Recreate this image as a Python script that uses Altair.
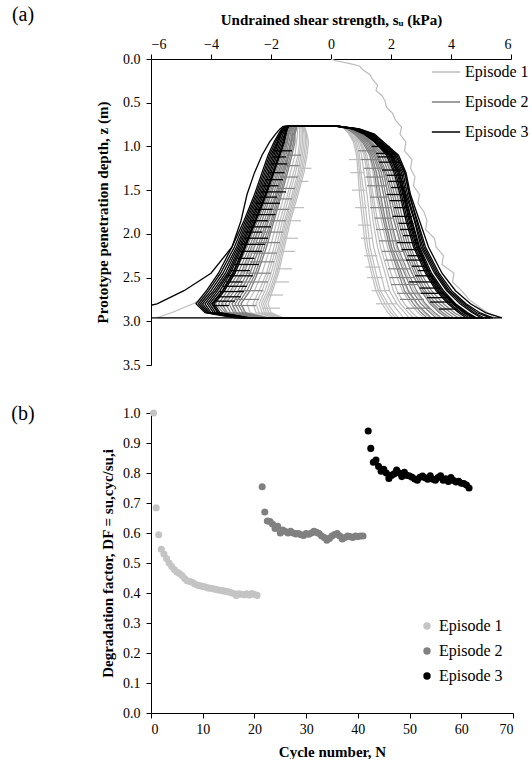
import altair as alt
import pandas as pd

SERIF = "Liberation Serif"
EPISODES = ["Episode 1", "Episode 2", "Episode 3"]
LINE_COLORS = ["#bdbdbd", "#808080", "#000000"]
LINE_WIDTHS = [1.2, 1.2, 1.3]
DOT_COLORS = ["#c4c4c4", "#808080", "#000000"]

SU_TICKS = [-6, -4, -2, 0, 2, 4, 6]
Z_TICKS = [0.0, 0.5, 1.0, 1.5, 2.0, 2.5, 3.0, 3.5]
N_TICKS = [0, 10, 20, 30, 40, 50, 60, 70]
DF_TICKS = [0.0, 0.1, 0.2, 0.3, 0.4, 0.5, 0.6, 0.7, 0.8, 0.9, 1.0]

# ---------------- panel (a): cyclic T-bar profiles ----------------
Z_NODES = [0.77, 0.80, 0.86, 0.95, 1.10, 1.30, 1.55, 1.85, 2.15, 2.45, 2.65, 2.80, 2.90, 2.96]

# initial penetration (episode 1)
INIT_Z = [0.00, 0.02, 0.05, 0.08, 0.12, 0.18, 0.24, 0.30, 0.36, 0.42, 0.48, 0.55, 0.62, 0.70,
          0.78, 0.86, 0.95, 1.05, 1.15, 1.25, 1.35, 1.45, 1.55, 1.65, 1.75, 1.85, 1.95, 2.05,
          2.15, 2.25, 2.35, 2.45, 2.55, 2.65, 2.75, 2.85, 2.92, 2.97]
INIT_SU = [0.00, 0.15, 0.60, 0.95, 1.05, 1.30, 1.40, 1.55, 1.50, 1.70, 1.80, 1.85, 2.05, 2.15,
           2.35, 2.30, 2.50, 2.45, 2.70, 2.65, 2.80, 2.75, 2.95, 2.90, 3.10, 3.20, 3.15, 3.45,
           3.50, 3.75, 3.70, 4.10, 4.05, 4.35, 4.60, 5.00, 5.30, 5.50]

# penetration side (positive su) at Z_NODES, one row per cycle
E1_R = [
    [0.30, 0.70, 1.10, 1.40, 1.80, 2.05, 2.25, 2.50, 2.80, 3.20, 3.55, 3.95, 4.30, 4.60],
    [0.30, 0.65, 1.00, 1.25, 1.55, 1.75, 1.90, 2.10, 2.35, 2.70, 3.00, 3.35, 3.65, 3.90],
    [0.30, 0.62, 0.95, 1.18, 1.45, 1.62, 1.75, 1.95, 2.18, 2.50, 2.78, 3.10, 3.38, 3.60],
    [0.30, 0.60, 0.90, 1.10, 1.35, 1.50, 1.60, 1.80, 2.00, 2.30, 2.55, 2.85, 3.10, 3.30],
    [0.30, 0.58, 0.85, 1.05, 1.28, 1.40, 1.50, 1.68, 1.88, 2.15, 2.38, 2.65, 2.90, 3.10],
    [0.30, 0.55, 0.80, 1.00, 1.20, 1.30, 1.40, 1.55, 1.75, 2.00, 2.20, 2.45, 2.70, 2.90],
    [0.30, 0.52, 0.78, 0.98, 1.15, 1.25, 1.35, 1.48, 1.65, 1.90, 2.08, 2.32, 2.58, 2.75],
    [0.30, 0.50, 0.75, 0.95, 1.10, 1.20, 1.30, 1.40, 1.55, 1.80, 1.95, 2.20, 2.45, 2.60],
    [0.30, 0.50, 0.70, 0.90, 1.02, 1.10, 1.20, 1.30, 1.42, 1.65, 1.80, 2.05, 2.28, 2.42],
    [0.30, 0.50, 0.65, 0.85, 0.95, 1.00, 1.10, 1.20, 1.30, 1.50, 1.65, 1.90, 2.10, 2.25],
    [0.30, 0.48, 0.62, 0.80, 0.90, 0.95, 1.02, 1.12, 1.22, 1.42, 1.58, 1.80, 2.00, 2.15],
    [0.30, 0.45, 0.60, 0.75, 0.85, 0.90, 0.95, 1.05, 1.15, 1.35, 1.50, 1.70, 1.90, 2.05],
]
E1_L = [
    [-1.45, -1.50, -1.60, -1.70, -1.85, -2.05, -2.30, -2.65, -3.00, -3.40, -3.80, -4.60, -5.30, -5.80],
    [-1.35, -1.35, -1.40, -1.45, -1.55, -1.75, -2.00, -2.30, -2.60, -2.95, -3.30, -3.60, -3.50, -2.60],
    [-1.28, -1.28, -1.30, -1.35, -1.42, -1.60, -1.82, -2.10, -2.38, -2.70, -3.00, -3.30, -3.20, -2.40],
    [-1.20, -1.20, -1.20, -1.25, -1.30, -1.45, -1.65, -1.90, -2.15, -2.45, -2.70, -3.00, -2.90, -2.20],
    [-1.15, -1.12, -1.12, -1.15, -1.20, -1.35, -1.55, -1.80, -2.02, -2.30, -2.55, -2.80, -2.70, -2.05],
    [-1.10, -1.05, -1.05, -1.05, -1.10, -1.25, -1.45, -1.70, -1.90, -2.15, -2.40, -2.60, -2.50, -1.90],
    [-1.05, -1.00, -1.00, -1.00, -1.05, -1.18, -1.38, -1.62, -1.82, -2.08, -2.30, -2.50, -2.40, -1.85],
    [-1.00, -0.95, -0.95, -0.95, -1.00, -1.10, -1.30, -1.55, -1.75, -2.00, -2.20, -2.40, -2.30, -1.80],
    [-0.98, -0.92, -0.90, -0.90, -0.95, -1.05, -1.25, -1.50, -1.70, -1.92, -2.12, -2.32, -2.22, -1.75],
    [-0.95, -0.90, -0.85, -0.85, -0.90, -1.00, -1.20, -1.45, -1.65, -1.85, -2.05, -2.25, -2.15, -1.70],
    [-0.92, -0.88, -0.82, -0.80, -0.85, -0.95, -1.15, -1.40, -1.60, -1.80, -2.00, -2.18, -2.08, -1.65],
    [-0.90, -0.85, -0.80, -0.75, -0.80, -0.90, -1.10, -1.35, -1.55, -1.75, -1.95, -2.10, -2.00, -1.60],
]
E2_R = [
    [0.30, 0.70, 1.05, 1.35, 1.75, 2.00, 2.20, 2.40, 2.65, 3.00, 3.35, 3.75, 4.10, 4.40],
    [0.30, 0.68, 1.02, 1.32, 1.68, 1.92, 2.12, 2.32, 2.58, 2.92, 3.25, 3.62, 3.98, 4.25],
    [0.30, 0.65, 1.00, 1.30, 1.60, 1.85, 2.05, 2.25, 2.50, 2.85, 3.15, 3.50, 3.85, 4.10],
    [0.30, 0.62, 0.98, 1.28, 1.55, 1.80, 1.98, 2.18, 2.42, 2.78, 3.08, 3.40, 3.72, 3.98],
    [0.30, 0.60, 0.95, 1.25, 1.50, 1.75, 1.90, 2.10, 2.35, 2.70, 3.00, 3.30, 3.60, 3.85],
    [0.30, 0.60, 0.92, 1.20, 1.45, 1.68, 1.82, 2.00, 2.22, 2.58, 2.85, 3.15, 3.45, 3.68],
    [0.30, 0.60, 0.90, 1.15, 1.40, 1.60, 1.75, 1.90, 2.10, 2.45, 2.70, 3.00, 3.30, 3.50],
    [0.30, 0.58, 0.85, 1.10, 1.35, 1.52, 1.65, 1.82, 2.02, 2.35, 2.58, 2.88, 3.15, 3.35],
    [0.30, 0.55, 0.80, 1.05, 1.30, 1.45, 1.55, 1.75, 1.95, 2.25, 2.45, 2.75, 3.00, 3.20],
]
E2_L = [
    [-1.35, -1.40, -1.45, -1.50, -1.65, -1.85, -2.10, -2.45, -2.80, -3.20, -3.55, -3.85, -3.60, -2.60],
    [-1.32, -1.38, -1.42, -1.48, -1.60, -1.80, -2.05, -2.38, -2.72, -3.10, -3.45, -3.75, -3.52, -2.55],
    [-1.30, -1.35, -1.40, -1.45, -1.55, -1.75, -2.00, -2.30, -2.65, -3.00, -3.35, -3.65, -3.45, -2.50],
    [-1.28, -1.32, -1.35, -1.40, -1.50, -1.70, -1.92, -2.22, -2.55, -2.90, -3.22, -3.52, -3.35, -2.45],
    [-1.25, -1.30, -1.30, -1.35, -1.45, -1.65, -1.85, -2.15, -2.45, -2.80, -3.10, -3.40, -3.25, -2.40],
    [-1.22, -1.25, -1.28, -1.32, -1.42, -1.60, -1.80, -2.08, -2.38, -2.70, -3.00, -3.30, -3.15, -2.30],
    [-1.20, -1.20, -1.25, -1.30, -1.40, -1.55, -1.75, -2.00, -2.30, -2.60, -2.90, -3.20, -3.05, -2.20],
    [-1.18, -1.18, -1.22, -1.25, -1.35, -1.50, -1.70, -1.95, -2.22, -2.52, -2.80, -3.10, -2.95, -2.15],
    [-1.15, -1.15, -1.20, -1.20, -1.30, -1.45, -1.65, -1.90, -2.15, -2.45, -2.70, -3.00, -2.85, -2.10],
]
E3_R = [
    [0.30, 0.95, 1.45, 1.75, 2.25, 2.50, 2.65, 2.95, 3.25, 3.70, 4.15, 4.65, 5.15, 5.70],
    [0.30, 0.90, 1.35, 1.65, 2.15, 2.45, 2.62, 2.85, 3.10, 3.55, 3.95, 4.45, 4.85, 5.30],
    [0.28, 0.92, 1.40, 1.70, 2.20, 2.47, 2.60, 2.88, 3.15, 3.60, 4.02, 4.50, 4.95, 5.40],
    [0.25, 0.86, 1.32, 1.62, 2.10, 2.40, 2.55, 2.80, 3.05, 3.50, 3.90, 4.38, 4.76, 5.10],
    [0.25, 0.85, 1.30, 1.60, 2.05, 2.35, 2.50, 2.78, 3.00, 3.45, 3.85, 4.30, 4.70, 5.00],
    [0.25, 0.80, 1.25, 1.55, 2.00, 2.30, 2.45, 2.70, 2.95, 3.35, 3.75, 4.15, 4.55, 4.85],
    [0.22, 0.82, 1.27, 1.57, 2.03, 2.27, 2.47, 2.68, 2.92, 3.30, 3.70, 4.12, 4.50, 4.80],
    [0.22, 0.77, 1.22, 1.52, 1.97, 2.24, 2.42, 2.64, 2.88, 3.28, 3.65, 4.08, 4.45, 4.75],
    [0.20, 0.75, 1.20, 1.50, 1.95, 2.20, 2.40, 2.60, 2.85, 3.25, 3.60, 4.05, 4.40, 4.70],
    [0.20, 0.72, 1.15, 1.47, 1.90, 2.15, 2.35, 2.55, 2.80, 3.20, 3.55, 3.97, 4.32, 4.60],
    [0.20, 0.70, 1.10, 1.45, 1.85, 2.10, 2.30, 2.50, 2.75, 3.15, 3.50, 3.90, 4.25, 4.50],
]
E3_L = [
    [-1.60, -1.70, -1.85, -2.05, -2.30, -2.55, -2.80, -3.00, -3.30, -4.00, -4.90, -5.80, -7.00, -6.40],
    [-1.55, -1.65, -1.75, -1.90, -2.10, -2.30, -2.55, -2.90, -3.30, -3.75, -4.15, -4.50, -4.20, -3.20],
    [-1.52, -1.62, -1.72, -1.85, -2.05, -2.25, -2.50, -2.85, -3.22, -3.68, -4.08, -4.42, -4.15, -3.10],
    [-1.50, -1.60, -1.70, -1.80, -2.00, -2.20, -2.45, -2.80, -3.15, -3.60, -4.00, -4.35, -4.10, -3.00],
    [-1.50, -1.58, -1.68, -1.78, -1.95, -2.15, -2.40, -2.75, -3.10, -3.52, -3.92, -4.28, -4.05, -2.95],
    [-1.50, -1.55, -1.65, -1.75, -1.90, -2.10, -2.35, -2.70, -3.05, -3.45, -3.85, -4.20, -4.00, -2.90],
    [-1.47, -1.52, -1.60, -1.70, -1.85, -2.05, -2.30, -2.65, -3.00, -3.40, -3.78, -4.12, -3.92, -2.85],
    [-1.45, -1.50, -1.55, -1.65, -1.80, -2.00, -2.25, -2.60, -2.95, -3.35, -3.70, -4.05, -3.85, -2.80],
    [-1.45, -1.48, -1.53, -1.60, -1.75, -1.95, -2.20, -2.55, -2.90, -3.28, -3.62, -3.98, -3.78, -2.75],
    [-1.42, -1.46, -1.50, -1.57, -1.72, -1.92, -2.18, -2.52, -2.88, -3.25, -3.60, -3.95, -3.75, -2.72],
    [-1.40, -1.45, -1.50, -1.55, -1.70, -1.90, -2.15, -2.50, -2.85, -3.20, -3.55, -3.90, -3.70, -2.70],
]

# short load spikes: depth, start su, end su
E1_SPK_Z = [1.15, 1.30, 1.50, 1.70, 1.90, 2.05, 2.25, 2.38, 2.50, 2.65, 2.80,
            1.25, 1.40, 1.70, 1.85, 2.05, 2.20, 2.40, 2.55, 2.70, 2.85]
E1_SPK_A = [1.00, 1.10, 1.15, 1.20, 1.30, 1.40, 1.55, 1.65, 1.75, 1.95, 2.20,
            -1.00, -1.10, -1.30, -1.45, -1.55, -1.65, -1.80, -1.90, -2.10, -2.30]
E1_SPK_B = [0.60, 0.65, 0.70, 0.80, 0.90, 1.00, 1.10, 1.15, 1.20, 1.35, 1.50,
            -0.65, -0.75, -0.90, -1.00, -1.10, -1.20, -1.30, -1.40, -1.60, -1.70]
E2_SPK_Z = [1.05, 1.15, 1.25, 1.35, 1.45, 1.58, 1.70, 1.82, 1.95, 2.08, 2.20, 2.30, 2.40, 2.50, 2.58, 2.68, 2.75, 2.85,
            1.10, 1.22, 1.35, 1.48, 1.60, 1.72, 1.85, 1.98, 2.10, 2.22, 2.32, 2.45, 2.55, 2.65, 2.75, 2.82]
E2_SPK_A = [1.50, 1.60, 1.70, 1.75, 1.85, 1.90, 2.00, 2.10, 2.20, 2.30, 2.45, 2.55, 2.65, 2.80, 2.90, 3.00, 3.10, 3.30,
            -1.45, -1.55, -1.70, -1.80, -1.90, -2.05, -2.20, -2.35, -2.50, -2.60, -2.70, -2.85, -3.00, -3.10, -3.20, -3.30]
E2_SPK_B = [0.90, 1.00, 1.10, 1.15, 1.20, 1.30, 1.30, 1.45, 1.50, 1.60, 1.70, 1.80, 1.90, 1.95, 2.00, 2.20, 2.30, 2.50,
            -1.00, -1.05, -1.10, -1.20, -1.30, -1.40, -1.50, -1.60, -1.70, -1.80, -1.90, -2.00, -2.10, -2.25, -2.40, -2.50]
E3_SPK_Z = [1.00, 1.08, 1.12, 1.18, 1.27, 1.33, 1.40, 1.47, 1.55, 1.62, 1.70, 1.80, 1.88, 1.95, 2.02, 2.10,
            2.18, 2.25, 2.30, 2.37, 2.42, 2.48, 2.55, 2.62, 2.68, 2.73, 2.78, 2.86,
            1.05, 1.12, 1.20, 1.30, 1.38, 1.45, 1.52, 1.58, 1.65, 1.72, 1.78, 1.85, 1.92, 1.98, 2.05,
            2.12, 2.20, 2.28, 2.35, 2.42, 2.48, 2.55, 2.60, 2.66, 2.72, 2.77, 2.82]
E3_SPK_A = [1.95, 2.15, 2.20, 2.30, 2.35, 2.40, 2.45, 2.50, 2.50, 2.55, 2.60, 2.70, 2.75, 2.80, 2.85, 2.90,
            3.00, 3.05, 3.15, 3.20, 3.30, 3.40, 3.55, 3.65, 3.75, 3.85, 4.00, 4.20,
            -1.90, -1.95, -2.00, -2.10, -2.20, -2.30, -2.35, -2.40, -2.50, -2.55, -2.60, -2.70, -2.75, -2.85, -2.90,
            -3.00, -3.05, -3.15, -3.25, -3.35, -3.45, -3.50, -3.60, -3.70, -3.80, -3.85, -3.90]
E3_SPK_B = [1.35, 1.50, 1.55, 1.60, 1.70, 1.85, 1.90, 2.00, 1.85, 1.95, 2.10, 2.05, 2.25, 2.30, 2.40, 2.20,
            2.35, 2.55, 2.50, 2.70, 2.90, 2.80, 2.60, 2.95, 3.00, 3.20, 3.30, 3.60,
            -1.30, -1.50, -1.45, -1.55, -1.60, -1.75, -1.50, -1.80, -1.70, -1.95, -1.85, -2.10, -2.00, -2.30, -2.10,
            -2.20, -2.30, -2.55, -2.40, -2.70, -2.60, -2.95, -2.80, -2.90, -3.00, -3.20, -3.40]

# ---------------- panel (b): degradation factor ----------------
E1_N = [0.5, 1.0, 1.5, 2.0, 2.5, 3.0, 3.5, 4.0, 4.5, 5.0, 5.5, 6.0, 6.5, 7.0, 7.5, 8.0, 8.5, 9.0,
        9.5, 10.0, 10.5, 11.0, 11.5, 12.0, 12.5, 13.0, 13.5, 14.0, 14.5, 15.0, 15.5, 16.0, 16.5,
        17.0, 17.5, 18.0, 18.5, 19.0, 19.5, 20.0, 20.5]
E1_DF = [1.000, 0.684, 0.594, 0.546, 0.530, 0.515, 0.500, 0.488, 0.478, 0.470, 0.465, 0.458, 0.448,
         0.441, 0.438, 0.436, 0.430, 0.426, 0.424, 0.422, 0.420, 0.417, 0.416, 0.414, 0.412, 0.410,
         0.409, 0.407, 0.405, 0.404, 0.401, 0.398, 0.392, 0.397, 0.396, 0.394, 0.397, 0.393, 0.398,
         0.395, 0.392]
E2_N = [21.5, 22.0, 22.5, 23.0, 23.5, 24.0, 24.5, 25.0, 25.5, 26.0, 26.5, 27.0, 27.5, 28.0, 28.5,
        29.0, 29.5, 30.0, 30.5, 31.0, 31.5, 32.0, 32.5, 33.0, 33.5, 34.0, 34.5, 35.0, 35.5, 36.0,
        36.5, 37.0, 37.5, 38.0, 38.5, 39.0, 39.5, 40.0, 40.5, 41.0]
E2_DF = [0.754, 0.670, 0.640, 0.638, 0.630, 0.615, 0.622, 0.600, 0.610, 0.605, 0.600, 0.606, 0.600,
         0.597, 0.598, 0.594, 0.592, 0.598, 0.596, 0.600, 0.606, 0.602, 0.598, 0.590, 0.585, 0.576,
         0.582, 0.590, 0.595, 0.598, 0.590, 0.580, 0.585, 0.590, 0.588, 0.585, 0.590, 0.588, 0.590,
         0.590]
E3_N = [42.0, 42.5, 43.0, 43.5, 44.0, 44.5, 45.0, 45.5, 46.0, 46.5, 47.0, 47.5, 48.0, 48.5, 49.0,
        49.5, 50.0, 50.5, 51.0, 51.5, 52.0, 52.5, 53.0, 53.5, 54.0, 54.5, 55.0, 55.5, 56.0, 56.5,
        57.0, 57.5, 58.0, 58.5, 59.0, 59.5, 60.0, 60.5, 61.0, 61.5]
E3_DF = [0.940, 0.882, 0.836, 0.843, 0.822, 0.806, 0.812, 0.800, 0.782, 0.792, 0.797, 0.810, 0.800,
         0.788, 0.802, 0.792, 0.790, 0.786, 0.780, 0.776, 0.786, 0.790, 0.784, 0.779, 0.791, 0.779,
         0.776, 0.785, 0.791, 0.776, 0.781, 0.772, 0.785, 0.775, 0.770, 0.772, 0.766, 0.765, 0.760,
         0.750]

# ---------------- build tables ----------------
line_rows = []
for k, (zz, ss) in enumerate(zip(INIT_Z, INIT_SU)):
    line_rows.append({"ep": "Episode 1", "loop": "init", "i": k, "z": zz, "su": ss})

for ep, rights, lefts in [("Episode 1", E1_R, E1_L), ("Episode 2", E2_R, E2_L), ("Episode 3", E3_R, E3_L)]:
    for c, (r, l) in enumerate(zip(rights, lefts)):
        pts = list(zip(Z_NODES, r)) + list(zip(Z_NODES[::-1], l[::-1])) + [(Z_NODES[0], r[0])]
        for k, (zz, ss) in enumerate(pts):
            line_rows.append({"ep": ep, "loop": f"{ep}-{c}", "i": k, "z": zz, "su": ss})
lines_df = pd.DataFrame(line_rows)

spk_rows = []
for ep, zs, a_s, b_s in [("Episode 1", E1_SPK_Z, E1_SPK_A, E1_SPK_B),
                         ("Episode 2", E2_SPK_Z, E2_SPK_A, E2_SPK_B),
                         ("Episode 3", E3_SPK_Z, E3_SPK_A, E3_SPK_B)]:
    for zz, a, b in zip(zs, a_s, b_s):
        spk_rows.append({"ep": ep, "z": zz, "su": a, "su2": b})
spk_df = pd.DataFrame(spk_rows)

dots_df = pd.DataFrame(
    [{"ep": "Episode 1", "N": n, "DF": d} for n, d in zip(E1_N, E1_DF)]
    + [{"ep": "Episode 2", "N": n, "DF": d} for n, d in zip(E2_N, E2_DF)]
    + [{"ep": "Episode 3", "N": n, "DF": d} for n, d in zip(E3_N, E3_DF)]
)

# ---------------- panel (a) ----------------
xa = alt.X("su:Q", scale=alt.Scale(domain=[-6, 6], nice=False, zero=False),
           axis=alt.Axis(orient="top", values=SU_TICKS, format="d",
                         title="Undrained shear strength, sᵤ (kPa)",
                         labelPadding=3, titlePadding=10))
ya = alt.Y("z:Q", scale=alt.Scale(domain=[0, 3.5], reverse=True, nice=False),
           axis=alt.Axis(values=Z_TICKS, format=".1f",
                         title="Prototype penetration depth, z (m)",
                         labelPadding=6, titlePadding=12))
color_lines = alt.Color("ep:N", scale=alt.Scale(domain=EPISODES, range=LINE_COLORS),
                        legend=alt.Legend(title=None, orient="none", legendX=280, legendY=-2,
                                          symbolType="stroke", symbolSize=800,
                                          symbolStrokeWidth=1.5, labelFont=SERIF,
                                          labelFontSize=16, labelColor="black",
                                          rowPadding=7, padding=0, labelOffset=4))

layers = []
for ep, w in zip(EPISODES, LINE_WIDTHS):
    layers.append(
        alt.Chart(lines_df).transform_filter(alt.datum.ep == ep)
        .mark_line(clip=True, strokeWidth=w)
        .encode(x=xa, y=ya, color=color_lines, detail="loop:N", order="i:Q")
    )
    layers.append(
        alt.Chart(spk_df).transform_filter(alt.datum.ep == ep)
        .mark_rule(clip=True, strokeWidth=w)
        .encode(x=xa, x2="su2:Q", y=ya, color=color_lines)
    )

label_a = alt.Chart(pd.DataFrame({"t": ["(a)"]})).mark_text(
    font=SERIF, fontSize=20, align="center", baseline="middle", color="black"
).encode(x=alt.value(-128), y=alt.value(-44), text="t:N")

top = alt.layer(*layers, label_a).properties(width=360, height=306)

# ---------------- panel (b) ----------------
xb = alt.X("N:Q", scale=alt.Scale(domain=[0, 70], nice=False),
           axis=alt.Axis(values=N_TICKS, format="d", title="Cycle number, N",
                         labelPadding=4, titlePadding=8))
yb = alt.Y("DF:Q", scale=alt.Scale(domain=[0, 1], nice=False),
           axis=alt.Axis(values=DF_TICKS, format=".1f",
                         title="Degradation factor, DF = su,cyc/su,i",
                         labelPadding=6, titlePadding=7))
color_dots = alt.Color("ep:N", scale=alt.Scale(domain=EPISODES, range=DOT_COLORS),
                       legend=alt.Legend(title=None, orient="none", legendX=268, legendY=205,
                                         symbolType="circle", symbolSize=55,
                                         labelFont=SERIF, labelFontSize=16, labelColor="black",
                                         rowPadding=9, padding=0, labelOffset=4))

dots = alt.Chart(dots_df).mark_circle(size=50, opacity=1).encode(x=xb, y=yb, color=color_dots)

label_b = alt.Chart(pd.DataFrame({"t": ["(b)"]})).mark_text(
    font=SERIF, fontSize=20, align="center", baseline="middle", color="black"
).encode(x=alt.value(-128), y=alt.value(1), text="t:N")

bottom = alt.layer(dots, label_b).properties(width=362, height=300)

chart = (
    alt.vconcat(top, bottom, spacing=32,
                padding={"left": 11, "top": 5, "right": 0, "bottom": 0})
    .resolve_scale(color="independent")
    .configure_view(stroke=None)
    .configure_axis(grid=False, domainColor="black", tickColor="black",
                    labelColor="black", titleColor="black",
                    labelFont=SERIF, titleFont=SERIF, labelFontSize=14,
                    titleFontSize=15, titleFontWeight="bold", tickSize=5)
)

chart.save("out.html", embed_options={"renderer": "svg", "actions": False})
